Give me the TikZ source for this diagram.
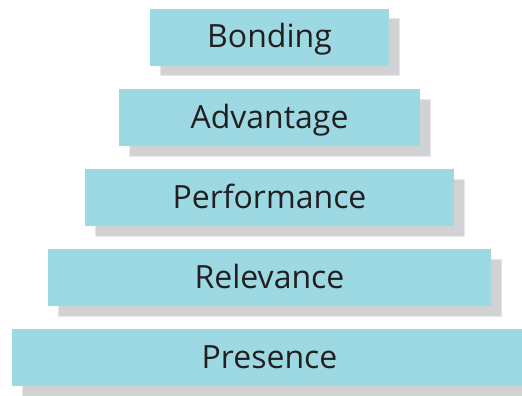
\documentclass[tikz,border=0pt]{standalone}
\usepackage{fontspec}
\setmainfont{Open Sans}
\usepackage{xcolor}
\usepackage{tikz}
\definecolor{tierfill}{RGB}{157,217,227}
\definecolor{shade}{RGB}{209,210,212}
\definecolor{shadeedge}{RGB}{230,231,232}
\definecolor{ink}{RGB}{35,31,32}

\begin{document}
\begin{tikzpicture}[x=1pt, y=-1pt, font=\fontsize{32}{38}\selectfont,
  tier/.style={rectangle, fill=tierfill, text=ink, inner sep=0pt,
               minimum height=57pt, text height=24.5pt, text depth=3.5pt},
  shadebox/.style={rectangle, fill=shade, draw=shadeedge, line width=1pt,
                   inner sep=0pt, minimum height=57pt}]
  \useasboundingbox (0,0) rectangle (522,396);
  \foreach \w/\y/\t/\n in {239/37.5/Bonding/bond, 301/117.5/Advantage/adv,
                           369/197.5/Performance/perf, 443/277.5/Relevance/rel,
                           515/357.5/Presence/pres} {
    \node[shadebox, minimum width=\w pt] (\n-sh) at (279.5,\y+10) {};
    \node[tier, minimum width=\w pt] (\n) at (269.5,\y) {\t};
  }
\end{tikzpicture}
\end{document}
